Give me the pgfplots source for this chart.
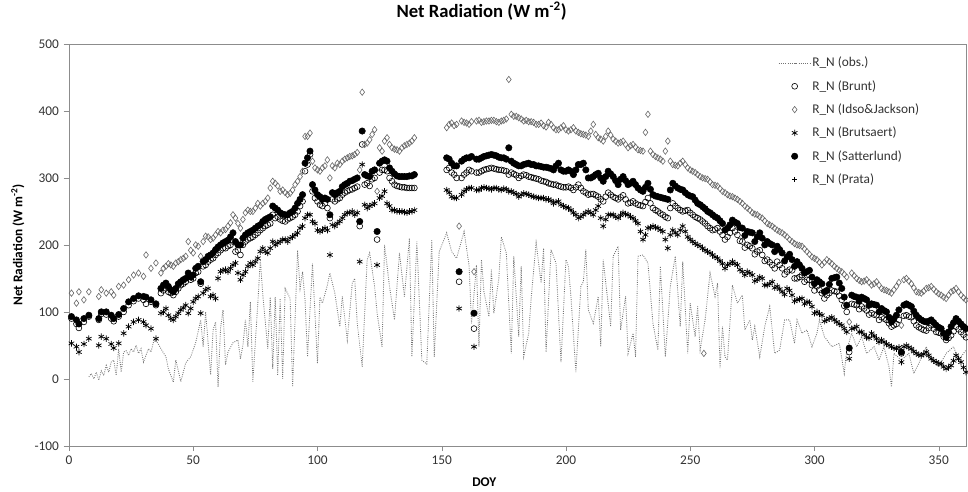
\documentclass[border=0pt]{standalone}
\usepackage{fontspec}
\setmainfont{Carlito}
\usepackage{pgfplots}
\usepackage{pgfplotstable}
\pgfplotsset{compat=1.18}

% modelled net radiation, one row per day that has a value
\pgfplotstableread{
doy brunt idso brutsaert satterlund
1   90  128 53  93
3   82  113 48  88
4   76  130 40  82
6   85  118 52  90
8   93  130 60  95
12  88  123 50  90
13  97  133 63  100
15  96  128 60  100
17  90  130 52  95
18  86  125 46  90
20  93  138 53  96
22  100 140 68  105
24  110 148 78  115
26  116 155 85  120
28  120 158 88  124
30  118 153 85  123
31  112 185 80  122
33  115 165 75  118
35  110 173 60  112
37  128 158 98  135
38  132 165 100 140
39  135 168 105 143
40  130 172 95  138
41  128 170 90  133
42  125 168 88  130
43  130 173 93  135
44  135 175 98  142
45  140 178 103 145
46  142 180 106 148
47  145 183 110 150
48  152 205 98  158
49  148 192 105 152
50  150 188 115 155
51  158 200 120 165
52  160 198 123 168
53  142 183 98  145
54  168 205 128 175
55  170 213 133 178
56  175 212 135 183
57  178 208 123 185
58  180 210 125 188
59  185 215 120 193
60  188 220 150 197
61  192 218 160 200
62  195 222 162 203
63  195 223 163 205
64  198 228 160 207
65  200 233 165 212
66  205 245 170 218
67  190 240 173 205
68  192 232 158 200
69  185 225 148 200
70  200 238 155 210
71  205 248 160 215
72  208 252 168 218
73  210 250 173 220
74  212 250 170 222
75  215 255 175 225
76  218 262 180 228
77  222 258 190 230
78  225 262 195 235
79  228 265 190 238
80  230 270 188 240
81  232 285 195 242
82  245 295 205 258
83  240 292 200 255
84  242 288 203 252
85  238 280 205 248
86  236 282 208 246
87  235 278 208 245
88  238 275 205 245
89  240 277 210 248
90  242 282 212 250
91  245 290 215 255
92  250 295 218 262
93  258 302 225 268
94  265 310 228 275
95  310 362 240 322
96  320 362 245 330
97  335 367 245 340
98  280 325 235 290
99  270 315 232 282
100 265 312 222 275
101 260 310 220 272
102 258 315 222 268
103 262 318 225 270
104 255 327 222 268
105 240 300 185 245
106 268 318 230 278
107 265 315 228 275
108 268 322 232 278
109 270 320 235 280
110 275 325 240 287
111 278 328 245 290
112 280 330 248 292
113 282 332 248 295
114 283 333 250 296
115 285 335 245 298
116 287 338 248 300
117 228 312 175 235
118 350 428 320 370
119 290 350 260 305
120 292 352 255 303
121 288 357 258 302
122 298 365 260 310
123 300 372 262 312
124 208 280 170 220
125 308 345 270 322
126 312 340 273 325
127 312 355 280 327
128 310 360 262 325
129 300 350 258 315
130 295 345 252 310
131 290 343 252 306
132 288 342 250 303
133 287 340 250 302
134 286 345 250 302
135 286 348 249 302
136 285 350 248 302
137 285 352 250 303
138 285 355 250 303
139 285 360 252 305
152 312 375 282 330
153 315 380 278 328
154 308 382 272 322
155 305 378 270 318
156 300 380 270 318
157 145 228 105 160
158 300 385 275 325
159 305 383 280 328
160 308 382 283 330
161 312 380 285 330
162 310 384 285 332
163 75  160 48  98
164 308 385 282 328
165 308 386 282 328
166 310 383 285 330
167 312 384 286 332
168 313 385 285 333
169 314 385 284 334
170 315 386 283 335
171 314 386 285 334
172 313 384 285 333
173 312 383 283 331
174 312 385 282 330
175 311 386 284 330
176 310 388 283 328
177 305 447 280 345
178 308 395 280 325
179 306 392 278 322
180 304 392 276 320
181 300 390 272 318
182 303 388 275 318
183 305 385 277 320
184 304 386 276 321
185 302 384 275 322
186 301 384 273 320
187 300 383 272 320
188 299 380 271 318
189 298 380 270 318
190 296 382 270 317
191 295 378 270 316
192 294 376 268 316
193 292 383 268 315
194 291 380 266 314
195 290 375 262 312
196 290 372 264 318
197 288 372 265 322
198 287 375 260 312
199 286 378 258 310
200 286 372 256 310
201 287 370 255 312
202 285 372 252 310
203 282 375 248 305
204 286 370 245 312
205 290 368 240 320
206 285 366 242 320
207 280 365 245 322
208 278 364 248 312
209 275 362 250 300
210 276 370 248 300
211 276 380 245 302
212 274 365 252 305
213 272 360 258 307
214 268 358 240 300
215 265 355 228 295
216 272 362 238 302
217 278 370 245 310
218 275 364 245 306
219 272 358 245 302
220 270 355 242 296
221 268 352 240 290
222 271 353 244 298
223 274 355 248 302
224 268 350 246 296
225 262 345 245 290
226 263 348 242 292
227 265 350 240 295
228 262 346 236 290
229 260 342 232 285
230 259 341 220 282
231 258 340 208 280
232 264 368 215 286
233 270 395 225 292
234 262 340 226 283
235 255 335 228 275
236 252 332 226 273
237 250 330 225 272
238 247 328 222 271
239 245 325 220 270
240 242 340 208 269
241 240 355 195 268
242 255 325 215 282
243 262 320 222 292
244 258 319 218 288
245 255 318 215 285
246 252 322 222 283
247 250 325 228 282
248 251 320 220 278
249 252 315 212 275
250 248 312 208 273
251 245 310 205 272
252 242 308 202 267
253 240 305 200 262
254 238 302 198 260
255 235 300 195 257
255.5 nan 38 nan nan
256 232 299 192 254
257 228 298 190 250
258 225 294 188 248
259 222 290 185 245
260 223 289 182 242
261 225 288 180 240
262 220 284 176 236
263 215 280 172 232
264 208 278 165 222
265 212 275 170 225
266 218 273 172 230
267 225 272 175 237
268 220 270 172 234
269 215 268 170 232
270 206 265 163 226
271 205 262 160 225
272 196 258 155 214
273 200 255 160 220
274 198 252 158 219
275 195 248 155 218
276 186 246 146 205
277 190 245 148 212
278 192 242 152 218
279 185 240 150 210
280 176 236 140 200
281 178 232 140 205
282 174 230 142 202
283 170 228 145 200
284 165 225 136 190
285 175 222 138 198
286 170 220 134 193
287 165 218 130 188
288 156 215 126 176
289 160 212 135 182
290 163 208 132 186
291 162 205 125 178
292 150 202 116 168
293 150 200 118 175
294 152 199 119 170
295 155 198 120 165
296 145 194 112 158
297 148 190 115 160
298 148 186 114 162
299 140 182 108 152
300 132 180 98  142
301 138 178 100 148
302 133 174 97  145
303 128 170 95  142
304 120 174 86  130
305 125 178 88  132
306 128 175 90  141
307 132 172 92  150
308 131 168 88  151
309 130 165 85  152
310 124 162 82  143
311 118 160 80  135
312 109 156 75  122
313 100 152 70  110
314 40  85  30  46
315 112 158 75  125
316 111 154 76  123
317 110 150 78  122
318 104 147 70  116
319 108 145 70  122
320 105 146 66  120
321 102 148 62  118
322 96  144 61  110
323 98  140 68  112
324 96  142 64  111
325 95  145 60  110
326 88  140 55  100
327 92  135 58  105
328 90  133 55  102
329 88  132 52  100
330 83  130 50  92
331 78  128 48  85
332 80  133 46  90
333 82  138 45  95
334 88  144 47  103
335 38  80  25  40
336 94  148 48  110
337 95  150 50  112
338 93  146 47  110
339 92  142 45  108
340 86  136 41  101
341 80  130 38  95
342 77  129 36  91
343 75  128 35  88
344 73  131 37  86
345 72  135 40  85
346 76  136 35  86
347 80  138 30  88
348 75  134 27  84
349 70  130 25  80
350 69  127 23  77
351 68  125 22  75
352 63  122 18  68
353 58  120 15  62
354 61  125 17  70
355 65  130 20  78
356 71  132 27  84
357 78  135 35  90
358 74  130 30  86
359 70  125 25  82
360 66  121 17  78
361 62  118 10  75
}\models

% observed net radiation
\pgfplotstableread{
doy obs
8 3
9 8
10 0
11 10
12 -2
13 12
14 5
15 20
16 10
17 25
18 28
19 5
20 45
21 10
22 40
23 42
24 35
25 45
26 40
27 50
28 38
29 45
30 25
31 35
32 45
33 40
34 55
35 58
37 45
39 33
40 15
42 -5
43 28
45 -4
47 24
49 33
51 54
53 88
54 48
55 100
57 6
58 73
59 85
60 -12
61 76
62 103
63 21
64 40
66 54
68 58
69 30
70 50
71 88
72 48
73 115
74 -4
76 113
77 178
78 126
80 45
81 122
82 15
83 122
84 5
85 120
86 0
87 135
89 120
90 -12
92 192
93 135
94 160
95 118
96 33
98 172
100 23
101 122
102 113
104 140
105 158
107 128
109 78
110 123
112 58
114 143
115 150
116 83
118 18
120 178
121 188
123 138
124 98
126 48
127 200
129 138
131 88
133 188
135 123
137 210
138 33
140 205
142 28
144 22
146 208
147 33
149 190
152 218
154 190
156 180
159 220
161 170
162 83
164 170
165 48
166 178
167 130
169 93
170 163
171 98
173 150
174 212
176 188
178 38
179 183
181 63
182 168
183 33
185 68
186 120
188 203
190 143
191 195
192 40
194 193
196 173
198 25
200 178
201 168
202 123
204 10
206 138
207 145
208 193
209 103
211 83
213 123
214 48
215 178
218 78
219 183
221 198
222 73
224 123
225 38
227 68
228 33
229 183
231 185
233 173
235 83
237 43
238 168
240 33
242 138
244 183
246 78
247 175
249 38
250 113
252 63
253 108
254 43
256 88
258 158
260 123
261 143
262 16
263 78
264 33
265 28
267 140
269 113
271 125
272 73
274 88
275 58
276 78
278 33
280 78
282 108
284 38
286 43
288 88
290 88
292 53
293 88
295 68
297 73
299 48
301 68
302 88
304 63
307 48
310 53
312 8
313 43
315 68
317 48
319 63
321 38
324 48
326 28
328 48
330 18
331 -12
332 38
335 28
338 38
340 8
342 23
345 48
347 28
350 18
353 38
356 48
358 28
361 43
}\obsdata

\begin{document}
\begin{tikzpicture}
\begin{axis}[
    scale only axis, width=673pt, height=301.5pt,
    xmin=0, xmax=361, ymin=-100, ymax=500,
    xtick={0,50,...,350}, ytick={-100,0,...,500},
    xtick pos=bottom, ytick pos=left,
    tick align=outside, major tick length=4pt,
    axis line style={black!45}, tick style={black!45},
    tick label style={font=\fontsize{10}{12}\selectfont, text=black!80},
    /pgf/number format/assume math mode=true,
    title={Net Radiation (W m\textsuperscript{-2})},
    title style={font=\fontsize{14}{16}\selectfont\bfseries, at={(0.46,1)}, anchor=base, yshift=14pt},
    ylabel={Net Radiation (W m\textsuperscript{-2})},
    ylabel style={font=\fontsize{10}{12}\selectfont\bfseries, at={(axis description cs:-0.057,0.5)}, anchor=center},
    xlabel={DOY},
    xlabel style={font=\fontsize{10}{12}\selectfont\bfseries, at={(axis description cs:0.463,0)}, anchor=center, yshift=-27pt},
    legend style={draw=none, fill=none, at={(axis description cs:0.786,0.98)}, anchor=north west,
        font=\fontsize{10}{12}\selectfont, text=black!80, row sep=5.5pt,
        nodes={inner sep=1pt, text height=8pt, text depth=2pt}},
    legend cell align=left,
    legend image code/.code={\draw[mark repeat=2,mark phase=2,#1] plot coordinates {(0cm,0cm) (0.42cm,0cm) (0.84cm,0cm)};},
]
\addplot[black!55, densely dotted, line width=0.65pt, no markers] table[x=doy, y=obs] {\obsdata};
\addplot[only marks, mark=o, mark size=2.2pt, black, line width=0.45pt] table[x=doy, y=brunt] {\models};
\addplot[only marks, mark=diamond, mark size=2.4pt, black!60, line width=0.45pt] table[x=doy, y=idso] {\models};
\addplot[only marks, mark=asterisk, mark size=2.4pt, black, line width=0.55pt] table[x=doy, y=brutsaert] {\models};
\addplot[only marks, mark=*, mark size=2.4pt, black] table[x=doy, y=satterlund] {\models};
\addplot[only marks, mark=+, mark size=1.8pt, black, line width=0.5pt] table[x=doy, y=satterlund] {\models};
\legend{R\_N (obs.), R\_N (Brunt), R\_N (Idso\&Jackson), R\_N (Brutsaert), R\_N (Satterlund), R\_N (Prata)}
\end{axis}
\pgfresetboundingbox
\useasboundingbox ([xshift=-51.75pt,yshift=-34.5pt]current axis.south west) rectangle ([xshift=1.5pt,yshift=33pt]current axis.north east);
\end{tikzpicture}
\end{document}
